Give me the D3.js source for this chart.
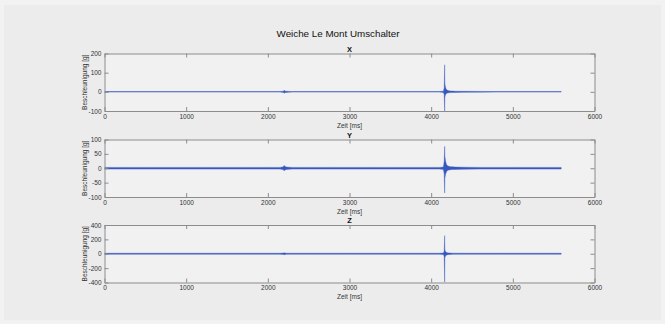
<!DOCTYPE html>
<html>
<head>
<meta charset="utf-8">
<script src="https://cdn.jsdelivr.net/npm/d3@7"></script>
<style>
  body { margin: 0; background: #ececec; }
  svg { display: block; font-family: "Liberation Sans", Arial, sans-serif; }
</style>
</head>
<body>
<script>
// time points of the decimated signal (ms)
const t = [0, 250, 500, 750, 1000, 1250, 1500, 1750, 2000, 2150, 2190, 2200, 2210, 2230, 2260, 2300,
  2500, 2750, 3000, 3250, 3500, 3750, 4000, 4100, 4150, 4160, 4165, 4168, 4172, 4176, 4182, 4190,
  4200, 4215, 4235, 4260, 4300, 4400, 4600, 4800, 5000, 5200, 5400, 5592];

// upper / lower envelope per axis (g)
const xHi = [1.5, 1.5, 1.5, 1.5, 1.5, 1.5, 1.5, 1.5, 1.5, 1.5, 3, 8, 4, 3, 2, 1.5,
  1.5, 1.5, 1.5, 1.5, 1.5, 1.5, 1.5, 1.5, 3, 20, 141, 45, 32, 24, 16, 11,
  8, 6, 5, 4, 3, 2.5, 2, 1.5, 1.5, 1.5, 1.5, 1.5];
const xLo = [-1.5, -1.5, -1.5, -1.5, -1.5, -1.5, -1.5, -1.5, -1.5, -1.5, -3, -7, -4, -3, -2, -1.5,
  -1.5, -1.5, -1.5, -1.5, -1.5, -1.5, -1.5, -1.5, -3, -15, -105, -28, -20, -15, -11, -8,
  -6, -5, -4, -3.5, -3, -2.5, -2, -1.5, -1.5, -1.5, -1.5, -1.5];

const yHi = [3, 3, 3, 3, 3, 3, 3, 3, 3, 3, 5, 10, 6, 4, 3.5, 3,
  3, 3, 3, 3, 3, 3, 3, 3, 4, 25, 76, 42, 34, 26, 18, 12,
  9, 7, 5.5, 5, 4, 3.5, 3, 3, 3, 3, 3, 3];
const yLo = [-3, -3, -3, -3, -3, -3, -3, -3, -3, -3, -5, -9, -6, -4, -3.5, -3,
  -3, -3, -3, -3, -3, -3, -3, -3, -4, -20, -86, -36, -28, -22, -16, -11,
  -8, -6, -5, -4, -4, -3.5, -3, -3, -3, -3, -3, -3];

const zHi = [7, 7, 7, 7, 7, 7, 7, 7, 7, 7, 9, 13, 10, 8, 7, 7,
  7, 7, 7, 7, 7, 7, 7, 7, 9, 40, 252, 60, 42, 32, 22, 16,
  13, 11, 9, 8, 8, 7, 7, 7, 7, 7, 7, 7];
const zLo = [-7, -7, -7, -7, -7, -7, -7, -7, -7, -7, -9, -13, -10, -8, -7, -7,
  -7, -7, -7, -7, -7, -7, -7, -7, -9, -40, -395, -60, -42, -32, -22, -16,
  -13, -11, -9, -8, -8, -7, -7, -7, -7, -7, -7, -7];

const panelNames = ["X", "Y", "Z"];
const yDomains = [[-100, 200], [-100, 100], [-400, 400]];
const yTicks = [[-100, 0, 100, 200], [-100, -50, 0, 50, 100], [-400, -200, 0, 200, 400]];
const xTicks = [0, 1000, 2000, 3000, 4000, 5000, 6000];
const series = [[xHi, xLo], [yHi, yLo], [zHi, zLo]];

const W = 665, H = 324;
const left = 104.5, right = 594.5;
const tops = [53.5, 139.5, 225];
const ph = 57.5;
const blue = '#3858c0';

const svg = d3.select('body').append('svg').attr('width', W).attr('height', H);

// faint outer frame
svg.append('rect').attr('width', W).attr('height', H).attr('fill', '#f2f2f2');
svg.append('rect').attr('x', 4).attr('y', 5).attr('width', W - 8).attr('height', H - 9).attr('fill', '#ececec');

svg.append('text')
  .attr('x', 338).attr('y', 37)
  .attr('text-anchor', 'middle')
  .attr('font-size', '9.8px')
  .attr('fill', '#111')
  .text('Weiche Le Mont Umschalter');

const x = d3.scaleLinear().domain([0, 6000]).range([left, right]);

panelNames.forEach((name, i) => {
  const top = tops[i], bottom = top + ph;
  const y = d3.scaleLinear().domain(yDomains[i]).range([bottom, top]);
  const g = svg.append('g');

  g.append('rect')
    .attr('x', left).attr('y', top).attr('width', right - left).attr('height', ph)
    .attr('fill', '#f1f1f1');

  const clipId = 'clip' + i;
  svg.append('clipPath').attr('id', clipId)
    .append('rect').attr('x', left).attr('y', top).attr('width', right - left).attr('height', ph);

  // signal band between the envelopes
  const [hi, lo] = series[i];
  const area = d3.area()
    .x(k => x(t[k]))
    .y0(k => y(lo[k]))
    .y1(k => y(hi[k]));
  g.append('path')
    .attr('clip-path', `url(#${clipId})`)
    .attr('d', area(d3.range(t.length)))
    .attr('fill', blue)
    .attr('stroke', blue)
    .attr('stroke-width', 0.4)
    .attr('stroke-linejoin', 'round');

  const axisStyle = sel => {
    sel.selectAll('path.domain').attr('stroke', '#8c8c8c');
    sel.selectAll('.tick line').attr('stroke', '#8c8c8c');
    sel.selectAll('.tick text').attr('fill', '#333').attr('font-size', '6.5px');
    sel.attr('font-family', null);
  };

  g.append('g').attr('transform', `translate(0,${bottom})`)
    .call(d3.axisBottom(x).tickValues(xTicks).tickSize(-4).tickSizeOuter(0).tickPadding(3).tickFormat(d => String(d)))
    .call(axisStyle);
  g.append('g').attr('transform', `translate(0,${top})`)
    .call(d3.axisTop(x).tickValues(xTicks).tickSize(-4).tickSizeOuter(0).tickFormat(''))
    .call(axisStyle);
  g.append('g').attr('transform', `translate(${left},0)`)
    .call(d3.axisLeft(y).tickValues(yTicks[i]).tickSize(-4).tickSizeOuter(0).tickPadding(3).tickFormat(d => String(d)))
    .call(axisStyle);
  g.append('g').attr('transform', `translate(${right},0)`)
    .call(d3.axisRight(y).tickValues(yTicks[i]).tickSize(-4).tickSizeOuter(0).tickFormat(''))
    .call(axisStyle);

  g.append('text')
    .attr('x', (left + right) / 2).attr('y', top - 2)
    .attr('text-anchor', 'middle')
    .attr('font-size', '7.5px').attr('font-weight', 'bold')
    .attr('fill', '#111')
    .text(name);

  g.append('text')
    .attr('x', (left + right) / 2).attr('y', bottom + 16.5)
    .attr('text-anchor', 'middle')
    .attr('font-size', '6.5px')
    .attr('fill', '#333')
    .text('Zeit [ms]');

  g.append('text')
    .attr('transform', `translate(86.5,${(top + bottom) / 2}) rotate(-90)`)
    .attr('text-anchor', 'middle')
    .attr('font-size', '6.5px')
    .attr('fill', '#333')
    .text('Beschleunigung [g]');
});
</script>
</body>
</html>
